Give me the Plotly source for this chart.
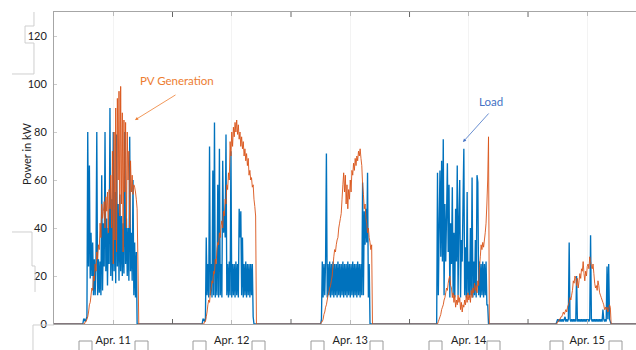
import pandas as pd
import plotly.graph_objects as go

# ---------------- data (kW, 10-minute samples) ----------------
STEP = "10min"
range_start = "2019-04-11 00:00"
range_end = "2019-04-15 21:52"

day_labels = ["Apr. 11", "Apr. 12", "Apr. 13", "Apr. 14", "Apr. 15"]
label_times = ["2019-04-11 12:00", "2019-04-12 12:00", "2019-04-13 12:00",
               "2019-04-14 12:00", "2019-04-15 12:00"]
midnights = ["2019-04-12 00:00", "2019-04-13 00:00", "2019-04-14 00:00", "2019-04-15 00:00"]

apr11_start = "2019-04-11 05:50"
load_apr11 = [0, 2, 2, 1, 2, 3, 80, 24, 66, 19, 38, 20, 34, 12, 27, 12, 26, 80, 12, 27,
              13, 26, 12, 62, 14, 42, 24, 80, 22, 44, 16, 40, 25, 90, 20, 52, 18, 80, 22, 55,
              17, 79, 24, 50, 18, 54, 22, 45, 20, 42, 21, 80, 25, 44, 20, 40, 18, 78, 22, 38,
              18, 60, 12, 34, 11, 30, 0]
pv_apr11 = [0, 0, 0, 1, 1, 2, 3, 5, 8, 9, 12, 15, 14, 20, 18, 25, 22, 30, 27, 33,
            31, 42, 36, 50, 44, 47, 51, 40, 53, 47, 55, 38, 56, 48, 62, 40, 72, 25, 80, 35,
            90, 30, 94, 60, 97, 45, 99, 50, 88, 30, 85, 55, 84, 40, 80, 60, 72, 40, 68, 55,
            62, 54, 58, 57, 55, 52, 48, 25, 0]

apr12_start = "2019-04-12 06:00"
load_apr12 = [0, 2, 2, 1, 2, 36, 12, 25, 11, 74, 12, 25, 11, 64, 12, 84, 11, 25, 12, 58,
              11, 73, 12, 25, 11, 68, 38, 46, 36, 79, 12, 25, 11, 26, 12, 72, 11, 25, 12, 25,
              11, 26, 12, 25, 11, 48, 36, 47, 12, 36, 11, 25, 12, 26, 11, 25, 12, 25, 11, 25,
              12, 25, 3, 0]
pv_apr12 = [0, 0, 0, 1, 1, 3, 5, 8, 10, 9, 13, 15, 18, 17, 22, 21, 27, 25, 31, 34,
            33, 38, 36, 41, 43, 40, 47, 45, 52, 50, 58, 56, 63, 60, 76, 70, 80, 74, 82, 78,
            84, 80, 85, 79, 83, 77, 80, 74, 78, 73, 76, 70, 73, 68, 71, 66, 69, 62, 64, 60,
            61, 57, 58, 52, 49, 45, 0]

apr13_start = "2019-04-13 06:00"
load_apr13 = [0, 2, 26, 11, 25, 12, 26, 71, 11, 25, 12, 26, 11, 25, 12, 26, 11, 25, 12, 25,
              11, 26, 12, 25, 11, 25, 12, 26, 11, 25, 12, 25, 11, 26, 12, 25, 11, 25, 12, 26,
              11, 25, 12, 25, 11, 26, 12, 25, 11, 25, 12, 59, 12, 47, 33, 48, 34, 63, 11, 25,
              0]
pv_apr13 = [0, 1, 1, 2, 4, 5, 7, 8, 10, 12, 13, 15, 16, 18, 20, 24, 28, 31, 30, 33,
            35, 36, 40, 42, 44, 46, 52, 58, 63, 55, 62, 50, 58, 48, 56, 52, 60, 55, 64, 62,
            67, 64, 69, 66, 70, 68, 72, 70, 73, 69, 66, 58, 54, 48, 50, 44, 42, 38, 40, 36,
            34, 31, 33, 0]

apr14_start = "2019-04-14 05:30"
load_apr14 = [0, 63, 12, 40, 64, 28, 68, 26, 77, 12, 50, 26, 45, 67, 30, 58, 11, 42, 25, 57,
              12, 38, 11, 48, 26, 66, 12, 44, 60, 11, 35, 26, 50, 73, 12, 32, 11, 55, 12, 26,
              11, 40, 12, 61, 11, 26, 12, 35, 11, 62, 59, 12, 26, 11, 25, 12, 26, 11, 25, 12,
              26, 8, 8, 0]
pv_apr14 = [0, 0, 1, 2, 3, 4, 6, 7, 8, 10, 11, 13, 15, 14, 17, 19, 20, 16, 15, 11,
            13, 9, 12, 7, 10, 8, 12, 9, 11, 6, 9, 5, 8, 7, 10, 8, 12, 9, 13, 10,
            12, 9, 14, 11, 15, 13, 17, 14, 16, 13, 18, 16, 24, 28, 33, 31, 34, 32, 35, 38,
            42, 50, 60, 78, 0]

apr15_start = "2019-04-15 05:30"
load_apr15 = [0, 0, 1, 2, 1, 2, 1, 2, 1, 2, 1, 2, 3, 1, 2, 1, 2, 34, 2, 1,
              2, 1, 2, 1, 2, 1, 20, 1, 2, 1, 2, 1, 2, 1, 2, 1, 2, 1, 2, 1,
              2, 1, 2, 37, 2, 1, 2, 1, 2, 1, 2, 1, 2, 1, 2, 1, 2, 1, 6, 2,
              1, 2, 1, 24, 2, 25, 2, 1, 0]
pv_apr15 = [0, 0, 0, 1, 1, 2, 2, 3, 3, 4, 5, 4, 5, 6, 5, 7, 8, 9, 11, 10,
            12, 14, 18, 17, 20, 19, 16, 19, 15, 18, 21, 19, 23, 22, 26, 21, 18, 22, 20, 24,
            25, 23, 28, 26, 24, 23, 25, 21, 17, 15, 16, 14, 18, 16, 13, 12, 11, 10, 9, 8,
            6, 7, 6, 7, 5, 6, 8, 7, 0]

load_days = [(apr11_start, load_apr11), (apr12_start, load_apr12), (apr13_start, load_apr13),
             (apr14_start, load_apr14), (apr15_start, load_apr15)]
pv_days = [(apr11_start, pv_apr11), (apr12_start, pv_apr12), (apr13_start, pv_apr13),
           (apr14_start, pv_apr14), (apr15_start, pv_apr15)]


def build(days):
    t = [pd.Timestamp(range_start)]
    v = [0]
    for start, vals in days:
        t += list(pd.date_range(start, periods=len(vals), freq=STEP))
        v += vals
    t.append(pd.Timestamp(range_end))
    v.append(0)
    return t, v


load_t, load_v = build(load_days)
pv_t, pv_v = build(pv_days)

# ---------------- figure ----------------
W, H = 636, 350
L, R, T, B = 54, 0, 12, 26
PW, PH = W - L - R, H - T - B


def px(x):
    return (x - L) / PW


def py(y):
    return (H - B - y) / PH


fig = go.Figure()
fig.add_trace(go.Scatter(x=load_t, y=load_v, mode="lines", name="Load",
                         line=dict(color="#0072BD", width=1.35, simplify=False)))
fig.add_trace(go.Scatter(x=pv_t, y=pv_v, mode="lines", name="PV Generation",
                         line=dict(color="#D95319", width=0.9, simplify=False)))

font = "Lato, 'Open Sans', sans-serif"

shapes = []
# day-boundary ticks (bottom and top, inside)
for m in midnights:
    shapes.append(dict(type="line", xref="x", yref="paper", x0=m, x1=m, y0=0, y1=5 / PH,
                       line=dict(color="#666666", width=1)))
    shapes.append(dict(type="line", xref="x", yref="paper", x0=m, x1=m, y0=1, y1=1 - 5 / PH,
                       line=dict(color="#666666", width=1)))

# stray boxes around the date labels
left_boxes = [79, 193, 311, 429, 550]
right_boxes = [135, 252, 370, 487, 609]
for xb in left_boxes + right_boxes:
    shapes.append(dict(type="rect", xref="paper", yref="paper",
                       x0=px(xb), x1=px(xb + 13), y0=py(341), y1=py(362),
                       line=dict(color="#9a9a9a", width=1), fillcolor="rgba(0,0,0,0)"))


def path_px(points):
    s = ""
    for i, (x, y) in enumerate(points):
        s += ("M" if i == 0 else "L") + f" {px(x):.4f} {py(y):.4f} "
    return s


# stray brackets at the left of the value labels
for pts in [
    [(34, 12), (34, 26), (25, 26), (25, 43), (34, 43), (34, 74), (12, 74)],
    [(12, 232), (32, 232), (32, 266), (35, 266), (35, 292)],
    [(54, 325), (33, 325), (33, 352)],
]:
    shapes.append(dict(type="path", xref="paper", yref="paper", path=path_px(pts),
                       line=dict(color="#cfcfcf", width=1)))

annotations = [
    dict(text="Power in kW", xref="paper", yref="paper", x=px(26), y=py(154),
         xanchor="center", yanchor="middle",
         textangle=-90, showarrow=False, font=dict(size=11, color="#222222", family=font)),
    dict(text="PV Generation", xref="paper", yref="paper", x=px(177), y=py(80),
         xanchor="center", yanchor="middle",
         showarrow=False, font=dict(size=11.5, color="#ED7D31", family=font)),
    dict(text="", xref="paper", yref="paper", x=px(135), y=py(120),
         ax=42, ay=-26, showarrow=True, arrowhead=2, arrowsize=0.8, arrowwidth=0.8,
         arrowcolor="#ED7D31"),
    dict(text="Load", xref="paper", yref="paper", x=px(491), y=py(102),
         xanchor="center", yanchor="middle",
         showarrow=False, font=dict(size=11.5, color="#4472C4", family=font)),
    dict(text="", xref="paper", yref="paper", x=px(463), y=py(142),
         ax=27, ay=-30, showarrow=True, arrowhead=2, arrowsize=0.8, arrowwidth=0.8,
         arrowcolor="#4472C4"),
]

fig.update_layout(
    width=W, height=H, margin=dict(l=L, r=R, t=T, b=B),
    paper_bgcolor="white", plot_bgcolor="white", showlegend=False,
    font=dict(family=font, size=11, color="#222222"),
    shapes=shapes, annotations=annotations,
    xaxis=dict(type="date", range=[range_start, range_end],
               tickvals=label_times, ticktext=day_labels,
               ticks="inside", ticklen=4, tickcolor="#bbbbbb",
               showline=True, linecolor="#a6a6a6", linewidth=1, mirror="ticks",
               showgrid=True, gridcolor="#f3f3f3", zeroline=False,
               tickfont=dict(size=11, color="#222222"), ticklabelstandoff=6),
    yaxis=dict(range=[0, 130], tickvals=[0, 20, 40, 60, 80, 100, 120],
               ticks="inside", ticklen=3, tickcolor="#cccccc",
               showline=True, linecolor="#a6a6a6", linewidth=1,
               showgrid=False, zeroline=False,
               tickfont=dict(size=11, color="#222222"), ticklabelstandoff=4),
)

fig.write_html("out.html", config={"displayModeBar": False},
               post_script="document.body.style.margin='0px';")
